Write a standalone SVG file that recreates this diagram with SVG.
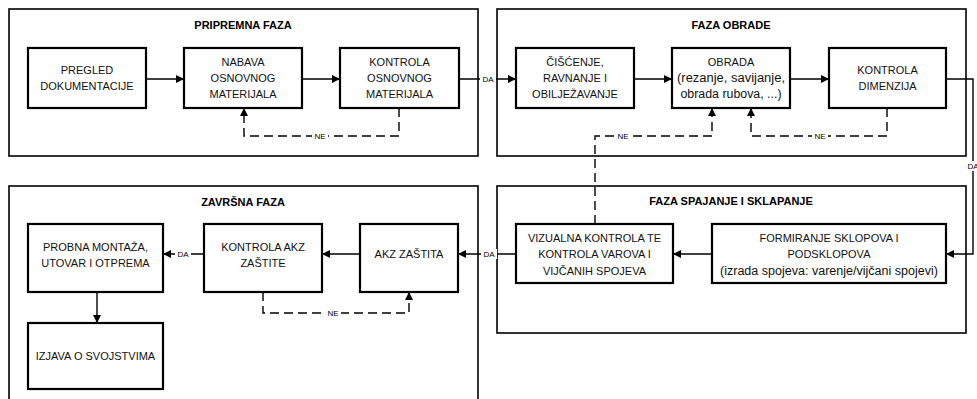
<svg xmlns="http://www.w3.org/2000/svg" width="977" height="399" viewBox="0 0 977 399">
<defs>
<marker id="ah" viewBox="0 0 10 10" refX="10" refY="5" markerWidth="8" markerHeight="8" markerUnits="userSpaceOnUse" orient="auto">
<path d="M0,0 L10,5 L0,10 z" fill="#000"/>
</marker>
</defs>
<style>
.phase{fill:#fff;stroke:#000;stroke-width:1.6}
.box{fill:#fff;stroke:#000;stroke-width:2.2}
.t{font-family:"Liberation Sans",Arial,sans-serif;font-size:11px;fill:#111;text-anchor:middle}
.lc{font-size:12px}
.title{font-family:"Liberation Sans",Arial,sans-serif;font-size:11px;font-weight:bold;fill:#000;text-anchor:middle}
.c{fill:none;stroke:#000;stroke-width:1.4}
.d{fill:none;stroke:#000;stroke-width:1.4;stroke-dasharray:9 5}
.lbl{font-family:"Liberation Sans",Arial,sans-serif;font-size:8px;fill:#000;text-anchor:middle}
.lb{fill:#fff}
</style>
<rect width="977" height="399" fill="#fff"/>
<g id="phases">
<rect class="phase" x="9" y="9" width="469" height="147"/>
<text class="title" x="243" y="29">PRIPREMNA FAZA</text>
<rect class="phase" x="497" y="9" width="469" height="147"/>
<text class="title" x="731" y="29">FAZA OBRADE</text>
<rect class="phase" x="9" y="186" width="469" height="220"/>
<text class="title" x="243" y="206">ZAVRŠNA FAZA</text>
<rect class="phase" x="497" y="186" width="469" height="147"/>
<text class="title" x="731" y="205">FAZA SPAJANJE I SKLAPANJE</text>
</g>
<g id="n1"><rect class="box" x="28" y="48" width="118" height="60"/><text class="t" x="87" y="74">PREGLED</text><text class="t" x="87" y="90">DOKUMENTACIJE</text></g>
<g id="n2"><rect class="box" x="184" y="48" width="118" height="60"/><text class="t" x="243" y="66">NABAVA</text><text class="t" x="243" y="82">OSNOVNOG</text><text class="t" x="243" y="98">MATERIJALA</text></g>
<g id="n3"><rect class="box" x="340" y="48" width="119" height="60"/><text class="t" x="399.500" y="66">KONTROLA</text><text class="t" x="399.500" y="82">OSNOVNOG</text><text class="t" x="399.500" y="98">MATERIJALA</text></g>
<g id="n4"><rect class="box" x="516" y="48" width="118" height="60"/><text class="t" x="575" y="66">ČIŠĆENJE,</text><text class="t" x="575" y="82">RAVNANJE I</text><text class="t" x="575" y="98">OBILJEŽAVANJE</text></g>
<g id="n5"><rect class="box" x="672" y="48" width="118" height="60"/><text class="t" x="731" y="66">OBRADA</text><text class="t lc" x="731" y="82" textLength="108" lengthAdjust="spacingAndGlyphs">(rezanje, savijanje,</text><text class="t lc" x="731" y="98" textLength="101" lengthAdjust="spacingAndGlyphs">obrada rubova, ...)</text></g>
<g id="n6"><rect class="box" x="829" y="48" width="117" height="60"/><text class="t" x="887.500" y="74">KONTROLA</text><text class="t" x="887.500" y="90">DIMENZIJA</text></g>
<g id="n7"><rect class="box" x="712" y="224" width="234" height="59"/><text class="t" x="829" y="242">FORMIRANJE SKLOPOVA I</text><text class="t" x="829" y="258">PODSKLOPOVA</text><text class="t lc" x="829" y="275" textLength="218" lengthAdjust="spacingAndGlyphs">(izrada spojeva: varenje/vijčani spojevi)</text></g>
<g id="n8"><rect class="box" x="516" y="224" width="157" height="59"/><text class="t" x="594.500" y="242">VIZUALNA KONTROLA TE</text><text class="t" x="594.500" y="258">KONTROLA VAROVA I</text><text class="t" x="594.500" y="275">VIJČANIH SPOJEVA</text></g>
<g id="n9"><rect class="box" x="360" y="224" width="98" height="68"/><text class="t" x="409" y="258">AKZ ZAŠTITA</text></g>
<g id="n10"><rect class="box" x="204" y="224" width="118" height="68"/><text class="t" x="263" y="251">KONTROLA AKZ</text><text class="t" x="263" y="267">ZAŠTITE</text></g>
<g id="n11"><rect class="box" x="28" y="224" width="135" height="68"/><text class="t" x="95.500" y="251">PROBNA MONTAŽA,</text><text class="t" x="95.500" y="267">UTOVAR I OTPREMA</text></g>
<g id="n12"><rect class="box" x="28" y="323" width="135" height="66"/><text class="t" x="95.500" y="360">IZJAVA O SVOJSTVIMA</text></g>
<g id="connectors">
<path class="c" d="M146,79 H184" marker-end="url(#ah)"/>
<path class="c" d="M302,79 H340" marker-end="url(#ah)"/>
<path class="c" d="M459,79 H516" marker-end="url(#ah)"/>
<path class="c" d="M634,79 H672" marker-end="url(#ah)"/>
<path class="c" d="M790,79 H829" marker-end="url(#ah)"/>
<path class="c" d="M946,79 H973 V254 H946" marker-end="url(#ah)"/>
<path class="c" d="M712,254 H673" marker-end="url(#ah)"/>
<path class="c" d="M516,254 H458" marker-end="url(#ah)"/>
<path class="c" d="M360,254 H322" marker-end="url(#ah)"/>
<path class="c" d="M204,254 H163" marker-end="url(#ah)"/>
<path class="c" d="M97,292 V323" marker-end="url(#ah)"/>
<path class="d" d="M399,108 V136 H244 V108" marker-end="url(#ah)"/>
<path class="d" d="M887,108 V136 H751 V108" marker-end="url(#ah)"/>
<path class="d" d="M595,224 V136 H712 V108" marker-end="url(#ah)"/>
<path class="d" d="M263,292 V313 H409 V292" marker-end="url(#ah)"/>
<rect class="lb" x="480" y="74" width="16" height="10"/><text class="lbl" x="488" y="82">DA</text>
<rect class="lb" x="965" y="161" width="16" height="10"/><text class="lbl" x="973" y="169">DA</text>
<rect class="lb" x="481" y="249" width="16" height="10"/><text class="lbl" x="489" y="257">DA</text>
<rect class="lb" x="175" y="249" width="16" height="10"/><text class="lbl" x="183" y="257">DA</text>
<rect class="lb" x="312" y="131" width="16" height="10"/><text class="lbl" x="320" y="139">NE</text>
<rect class="lb" x="812" y="131" width="16" height="10"/><text class="lbl" x="820" y="139">NE</text>
<rect class="lb" x="615" y="131" width="16" height="10"/><text class="lbl" x="623" y="139">NE</text>
<rect class="lb" x="325" y="308" width="16" height="10"/><text class="lbl" x="333" y="316">NE</text>
</g>
</svg>
